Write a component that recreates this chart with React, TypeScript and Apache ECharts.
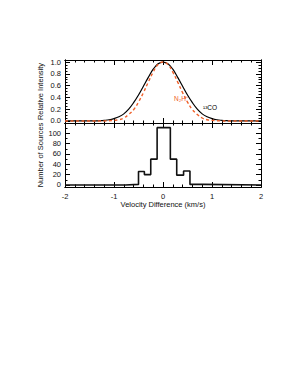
import React, { useEffect, useRef } from "react";
import * as echarts from "echarts";

// Velocity sampling (km/s) for the normalised line profiles
const velocity = [
  -2.0, -1.9, -1.8, -1.7, -1.6, -1.5, -1.4, -1.3, -1.2, -1.1, -1.0, -0.9, -0.8, -0.7, -0.6, -0.5, -0.4, -0.3, -0.2, -0.1,
  0.0, 0.1, 0.2, 0.3, 0.4, 0.5, 0.6, 0.7, 0.8, 0.9, 1.0, 1.1, 1.2, 1.3, 1.4, 1.5, 1.6, 1.7, 1.8, 1.9, 2.0,
];
// 13CO relative intensity (black solid)
const co13Intensity = [
  0, 0, 0, 0, 0, 0, 0.0, 0.004, 0.01, 0.02, 0.04, 0.07, 0.12, 0.2, 0.31, 0.44, 0.59, 0.74, 0.88, 0.97,
  1.0, 0.97, 0.88, 0.74, 0.59, 0.44, 0.31, 0.2, 0.12, 0.07, 0.04, 0.02, 0.01, 0.004, 0.0, 0, 0, 0, 0, 0, 0,
];
// N2H+ relative intensity (orange dashed)
const n2hIntensity = [
  0, 0, 0, 0, 0, 0, 0, 0, 0.0, 0.004, 0.01, 0.02, 0.05, 0.11, 0.19, 0.32, 0.48, 0.66, 0.83, 0.96,
  1.0, 0.96, 0.83, 0.66, 0.48, 0.32, 0.19, 0.11, 0.05, 0.02, 0.01, 0.004, 0.0, 0, 0, 0, 0, 0, 0, 0, 0,
];
// Histogram of velocity differences
const binEdges = [-0.77, -0.5, -0.38, -0.25, -0.12, 0.015, 0.15, 0.28, 0.42, 0.55, 0.82];
const sourceCounts = [1, 26, 20, 50, 111, 111, 50, 19, 27, 1];

const intensityTicks = [0, 0.2, 0.4, 0.6, 0.8, 1.0];
const countTicks = [0, 20, 40, 60, 80, 100];
const velocityTicks = [-2, -1, 0, 1, 2];

const FONT = "Liberation Sans";
const ORANGE = "#f0602a";

function steps(from: number, to: number, step: number): number[] {
  const out: number[] = [];
  const n = Math.round((to - from) / step);
  for (let i = 0; i <= n; i++) out.push(+(from + i * step).toFixed(4));
  return out;
}

export default function App() {
  const ref = useRef<HTMLDivElement>(null);
  useEffect(() => {
    if (!ref.current) return;
    const chart = echarts.init(ref.current, null, { renderer: "svg" });

    const GL = 65, GW = 196;
    const grids = [
      { left: GL, top: 60, width: GW, height: 63 },
      { left: GL, top: 123, width: GW, height: 64 },
    ];

    const label = { fontSize: 7.5, color: "#111", fontFamily: FONT };
    const nameStyle = { fontSize: 7.5, color: "#111", fontFamily: FONT };
    const lineStyle = { color: "#000", width: 1 };

    const xAxes: any[] = [];
    const yAxes: any[] = [];

    const mkX = (gi: number, pos: string, vals: number[], len: number, showLabel: boolean, extra: any = {}) => ({
      type: "value", gridIndex: gi, position: pos, min: -2, max: 2,
      axisLine: { show: true, onZero: false, lineStyle },
      axisTick: { show: true, inside: true, length: len, customValues: vals, lineStyle },
      axisLabel: { show: showLabel, customValues: vals, margin: 5, ...label },
      splitLine: { show: false },
      ...extra,
    });
    const mkY = (gi: number, pos: string, min: number, max: number, vals: number[], len: number, showLabel: boolean, fmt: any, extra: any = {}) => ({
      type: "value", gridIndex: gi, position: pos, min, max,
      axisLine: { show: true, onZero: false, lineStyle },
      axisTick: { show: true, inside: true, length: len, customValues: vals, lineStyle },
      axisLabel: { show: showLabel, customValues: vals, margin: 4, formatter: fmt, ...label },
      splitLine: { show: false },
      ...extra,
    });

    const xMinor = steps(-2, 2, 0.2);
    xAxes.push(mkX(0, "bottom", velocityTicks, 5, false)); // 0 main
    xAxes.push(mkX(0, "bottom", xMinor, 2.5, false));
    xAxes.push(mkX(0, "top", velocityTicks, 5, false));
    xAxes.push(mkX(0, "top", xMinor, 2.5, false));
    xAxes.push(mkX(1, "bottom", velocityTicks, 5, true, {
      name: "Velocity Difference (km/s)", nameLocation: "middle", nameGap: 13, nameMoveOverlap: false,
      nameTextStyle: nameStyle,
    })); // 4 main
    xAxes.push(mkX(1, "bottom", xMinor, 2.5, false));
    xAxes.push(mkX(1, "top", velocityTicks, 5, false));
    xAxes.push(mkX(1, "top", xMinor, 2.5, false));

    const iMin = -0.035, iMax = 1.035;
    const iMinor = steps(0, 1, 0.05);
    const fmtI = (v: number) => v.toFixed(1);
    yAxes.push(mkY(0, "left", iMin, iMax, intensityTicks, 5, true, fmtI, {
      name: "Relative Intensity", nameLocation: "middle", nameGap: 21, nameMoveOverlap: false,
      nameTextStyle: nameStyle,
    })); // 0 main
    yAxes.push(mkY(0, "left", iMin, iMax, iMinor, 2.5, false, fmtI));
    yAxes.push(mkY(0, "right", iMin, iMax, intensityTicks, 5, false, fmtI));
    yAxes.push(mkY(0, "right", iMin, iMax, iMinor, 2.5, false, fmtI));

    const cMin = -4, cMax = 120;
    const cMinor = steps(0, 120, 10);
    const fmtC = (v: number) => String(Math.round(v));
    yAxes.push(mkY(1, "left", cMin, cMax, countTicks, 5, true, fmtC, {
      name: "Number of Sources", nameLocation: "middle", nameGap: 21, nameMoveOverlap: false,
      nameTextStyle: nameStyle,
    })); // 4 main
    yAxes.push(mkY(1, "left", cMin, cMax, cMinor, 2.5, false, fmtC));
    yAxes.push(mkY(1, "right", cMin, cMax, countTicks, 5, false, fmtC));
    yAxes.push(mkY(1, "right", cMin, cMax, cMinor, 2.5, false, fmtC));

    const histPts: number[][] = [[-2, 0], [binEdges[0], 0]];
    for (let i = 0; i < sourceCounts.length; i++) {
      histPts.push([binEdges[i], sourceCounts[i]]);
      histPts.push([binEdges[i + 1], sourceCounts[i]]);
    }
    histPts.push([binEdges[binEdges.length - 1], 0]);
    histPts.push([2, 0]);

    chart.setOption({
      animation: false,
      grid: grids,
      xAxis: xAxes,
      yAxis: yAxes,
      series: [
        {
          type: "line", xAxisIndex: 0, yAxisIndex: 0, showSymbol: false, smooth: 0.4,
          data: velocity.map((v, i) => [v, n2hIntensity[i]]),
          lineStyle: { color: ORANGE, width: 1.4, type: [3, 2.5] },
          z: 3,
        },
        {
          type: "line", xAxisIndex: 0, yAxisIndex: 0, showSymbol: false, smooth: 0.4,
          data: velocity.map((v, i) => [v, co13Intensity[i]]),
          lineStyle: { color: "#000", width: 1.2 },
          z: 2,
        },
        {
          type: "line", xAxisIndex: 4, yAxisIndex: 4, showSymbol: false,
          data: histPts,
          lineStyle: { color: "#111", width: 1.6 },
        },
      ],
      graphic: [
        { type: "text", left: 174, top: 95, style: { text: "N₂H⁺", fill: ORANGE, fontSize: 6.5, fontFamily: FONT } },
        { type: "text", left: 203, top: 104, style: { text: "¹³CO", fill: "#000", fontSize: 6.5, fontFamily: FONT } },
      ],
    });
    return () => chart.dispose();
  }, []);
  return (
    <div
      ref={ref}
      style={{ position: "fixed", left: 0, top: 0, width: 300, height: 388, background: "#fff" }}
    />
  );
}
